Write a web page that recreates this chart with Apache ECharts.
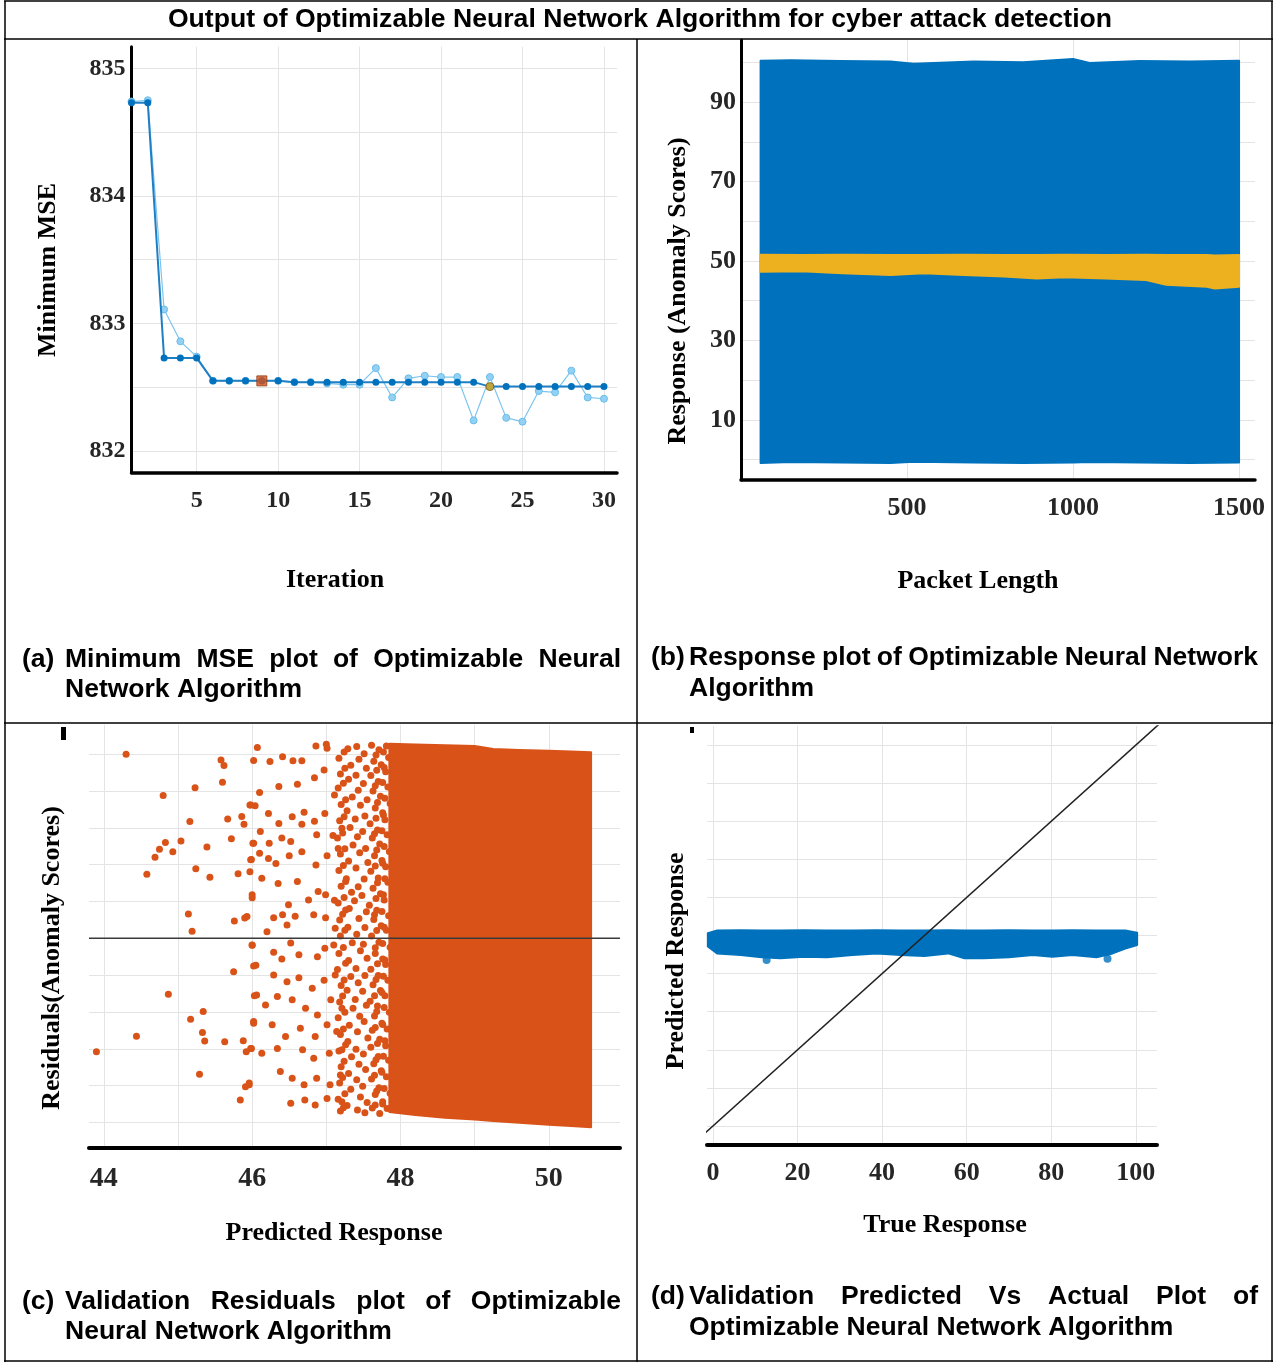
<!DOCTYPE html>
<html>
<head>
<meta charset="utf-8">
<script src="https://cdn.jsdelivr.net/npm/echarts@6/dist/echarts.min.js"></script>
<style>
  html, body { margin: 0; padding: 0; background: #fff; }
  #chart { width: 1275px; height: 1363px; }
</style>
</head>
<body>
<div id="chart"></div>
<script>
// ---- (a) Minimum MSE plot ----
const iterations = [1, 2, 3, 4, 5, 6, 7, 8, 9, 10, 11, 12, 13, 14, 15, 16, 17, 18, 19, 20, 21, 22, 23, 24, 25, 26, 27, 28, 29, 30];
const minObservedMSE = [834.73, 834.73, 832.73, 832.73, 832.73, 832.55, 832.55, 832.55, 832.55, 832.55,
  832.54, 832.54, 832.54, 832.54, 832.54, 832.54, 832.54, 832.54, 832.54, 832.54,
  832.54, 832.54, 832.505, 832.505, 832.505, 832.505, 832.505, 832.505, 832.505, 832.505];
const estimatedMSE = [834.74, 834.75, 833.11, 832.86, 832.74, 832.55, 832.55, 832.55, 832.55, 832.55,
  832.54, 832.54, 832.53, 832.52, 832.52, 832.65, 832.42, 832.57, 832.59, 832.58,
  832.58, 832.24, 832.58, 832.26, 832.23, 832.47, 832.46, 832.63, 832.42, 832.41];
const bestPoint = [9, 832.55];
const minErrorPoint = [23, 832.505];
const mseTicks = [832, 832.5, 833, 833.5, 834, 834.5, 835];
const mseLabels = [832, 833, 834, 835];
const iterTicks = [5, 10, 15, 20, 25, 30];

// ---- (b) Response plot (edges of the dense point clouds) ----
const respBlueX = [59, 150, 300, 450, 520, 700, 850, 1000, 1050, 1200, 1350, 1500];
const respBlueTop = [100.4, 100.5, 100.3, 100.2, 99.6, 100.2, 100.0, 100.8, 99.8, 100.3, 100.2, 100.4];
const respBlueBottom = [-0.8, -0.6, -0.7, -0.8, -0.5, -0.7, -0.8, -0.7, -0.6, -0.7, -0.8, -0.7];
const respPredX = [59, 184, 305, 452, 549, 671, 793, 891, 976, 1098, 1220, 1281, 1403, 1427, 1500];
const respPredTop = [51.6, 51.5, 51.6, 51.5, 51.5, 51.6, 51.5, 51.5, 51.6, 51.5, 51.6, 51.5, 51.5, 51.4, 51.5];
const respPredBottom = [47.3, 47.4, 46.9, 46.5, 46.9, 46.5, 46.1, 45.6, 45.9, 45.6, 45.2, 44.0, 43.5, 43.1, 43.5];
const respYTicks = [0, 10, 20, 30, 40, 50, 60, 70, 80, 90, 100];
const respYLabels = [10, 30, 50, 70, 90];
const packetTicks = [500, 1000, 1500];

// ---- (c) Validation residuals ----
const residualPts = [
  [44.30, 49.96], [45.58, 48.4], [45.62, 46.9], [45.60, 42.4], [45.23, 40.9], [44.80, 38.8], [45.97, 36.2], [45.16, 31.7],
  [45.67, 32.4], [45.86, 33.1], [45.89, 31.0], [45.04, 26.4], [44.83, 26.0], [44.75, 24.2], [44.69, 22.0], [44.93, 23.5],
  [45.39, 24.8], [45.72, 27.0], [44.58, 17.4], [45.24, 18.9], [45.43, 16.6], [45.81, 17.5], [45.97, 18.1], [45.99, 21.4],
  [46.01, 25.8], [46.00, 11.0], [45.14, 6.6], [45.76, 4.7], [45.90, 5.5], [45.19, 1.9], [46.00, -1.9], [45.75, -9.1],
  [46.02, -7.5], [44.87, -15.2], [46.03, -15.6], [45.34, -19.9], [45.17, -22.0], [44.44, -26.6], [45.33, -25.6], [45.36, -27.9],
  [45.63, -28.1], [45.88, -27.8], [46.02, -23.1], [43.90, -30.8], [45.92, -30.8], [45.99, -29.9], [45.29, -36.9], [45.91, -40.3],
  [45.96, -39.3], [45.84, -43.9], [46.02, 48.3], [46.04, 36.0],
  [46.07, 51.8], [46.24, 48.0], [46.41, 49.3], [46.55, 48.2], [46.67, 48.2], [46.86, 52.2], [47.00, 52.7], [47.01, 51.6],
  [46.36, 41.2], [46.61, 41.8], [46.84, 43.6], [46.97, 45.7], [46.10, 39.6], [45.98, 36.2], [46.22, 33.9], [46.36, 31.2],
  [46.54, 33.0], [46.70, 34.2], [46.84, 31.8], [46.98, 33.9], [47.11, 38.9], [46.02, 25.8], [46.11, 29.0], [46.23, 25.8],
  [46.40, 27.2], [46.52, 26.3], [46.67, 31.0], [46.87, 28.1], [47.09, 27.9], [47.21, 29.9], [45.98, 21.3], [46.10, 23.1],
  [46.22, 21.7], [46.32, 20.3], [46.50, 22.4], [46.67, 23.5], [46.86, 19.9], [47.01, 22.4], [47.16, 24.4], [46.00, 11.8],
  [46.13, 16.3], [46.35, 14.9], [46.61, 15.4], [46.76, 10.4], [46.89, 12.7], [46.99, 11.8], [47.11, 10.3], [47.26, 7.7],
  [46.29, 5.6], [46.41, 6.4], [46.49, 9.1], [46.58, 6.0], [46.47, 3.6], [46.83, 6.4], [46.99, 5.6], [47.12, 2.7],
  [46.20, 1.8], [45.93, 5.9], [46.00, -1.8], [46.29, -3.8], [46.40, -5.6], [46.52, -1.3], [46.63, -4.5], [46.88, -5.0],
  [46.98, -2.7], [47.10, -1.8], [46.05, -7.3], [46.29, -10.0], [46.47, -11.8], [46.63, -10.7], [46.81, -13.6], [46.97, -11.4],
  [47.12, -10.0], [46.06, -15.4], [46.18, -18.1], [46.34, -15.8], [46.54, -16.7], [46.72, -19.0], [46.88, -20.8], [47.06, -16.7],
  [47.21, -19.0], [46.02, -22.6], [46.27, -23.5], [46.45, -26.7], [46.65, -24.4], [46.85, -26.7], [47.01, -23.5], [47.14, -25.3],
  [45.98, -29.9], [46.13, -31.2], [46.34, -29.9], [46.68, -30.3], [46.83, -32.6], [47.04, -31.2], [47.21, -30.3], [45.96, -39.8],
  [46.38, -36.2], [46.54, -38.0], [46.70, -39.8], [46.87, -38.0], [47.05, -39.8], [47.19, -37.1], [46.52, -44.8], [46.71, -43.9],
  [46.85, -45.3], [47.01, -43.5], [47.21, -44.4],
  [47.17, 48.9], [47.19, 44.6], [47.16, 40.8], [47.20, 36.3], [47.18, 31.9], [47.15, 27.2], [47.19, 22.9], [47.17, 18.4],
  [47.20, 14.1], [47.16, 9.6], [47.18, 5.0], [47.19, 0.6], [47.17, -4.1], [47.15, -8.5], [47.20, -12.8], [47.18, -17.3],
  [47.16, -21.6], [47.19, -26.1], [47.17, -30.6], [47.20, -34.9], [47.18, -39.3], [47.16, -43.7], [47.19, -46.9],
  [47.24, 50.6], [47.25, 46.2], [47.23, 42.1], [47.26, 37.6], [47.24, 33.0], [47.22, 28.6], [47.25, 24.3], [47.23, 19.8],
  [47.26, 15.4], [47.24, 11.1], [47.22, 6.5], [47.25, 2.2], [47.23, -2.5], [47.26, -6.8], [47.24, -11.3], [47.22, -15.7],
  [47.25, -20.1], [47.23, -24.6], [47.26, -28.9], [47.24, -33.4], [47.22, -37.8], [47.25, -42.2], [47.23, -46.0],
  [47.29, 51.5], [47.33, 47.0], [47.30, 43.2], [47.35, 38.4], [47.28, 34.6], [47.32, 30.1], [47.36, 25.3], [47.30, 21.0],
  [47.27, 16.2], [47.34, 12.5], [47.31, 8.1], [47.29, 3.0], [47.35, -1.2], [47.30, -6.0], [47.33, -10.4], [47.28, -14.1],
  [47.36, -19.0], [47.31, -23.6], [47.29, -28.0], [47.34, -32.2], [47.30, -36.7], [47.33, -41.0], [47.28, -45.4],
  [47.41, 52.1], [47.44, 48.6], [47.40, 44.3], [47.43, 40.2], [47.46, 36.1], [47.39, 32.4], [47.42, 27.6], [47.45, 23.2],
  [47.40, 19.1], [47.43, 14.0], [47.38, 10.2], [47.44, 5.4], [47.41, 1.1], [47.46, -3.4], [47.40, -8.2], [47.43, -12.1],
  [47.39, -16.6], [47.45, -21.2], [47.42, -25.4], [47.40, -30.1], [47.44, -34.2], [47.41, -38.4], [47.46, -43.1], [47.42, -46.6],
  [47.51, 50.1], [47.54, 46.2], [47.50, 42.0], [47.55, 37.6], [47.52, 33.2], [47.49, 29.0], [47.53, 24.4], [47.56, 20.6],
  [47.51, 16.1], [47.48, 11.6], [47.54, 7.2], [47.52, 2.9], [47.50, -1.6], [47.55, -5.4], [47.52, -10.1], [47.49, -14.4],
  [47.54, -18.2], [47.51, -22.6], [47.56, -27.1], [47.50, -31.4], [47.53, -35.6], [47.49, -40.2], [47.55, -44.6], [47.52, -47.4],
  [47.61, 52.4], [47.64, 48.1], [47.60, 44.2], [47.63, 40.0], [47.66, 35.4], [47.59, 31.1], [47.62, 27.2], [47.65, 22.4],
  [47.60, 18.2], [47.63, 13.6], [47.58, 9.0], [47.64, 5.1], [47.61, 0.6], [47.66, -4.1], [47.60, -8.4], [47.63, -12.6],
  [47.59, -17.1], [47.65, -21.1], [47.62, -25.0], [47.60, -29.6], [47.64, -34.1], [47.61, -38.2], [47.66, -42.4], [47.62, -46.1],
  [47.67, 49.8], [47.68, 45.6], [47.66, 41.4], [47.69, 36.9], [47.67, 32.6], [47.65, 28.4], [47.68, 24.0], [47.66, 19.6],
  [47.69, 15.1], [47.67, 10.8], [47.65, 6.4], [47.68, 2.1], [47.66, -2.6], [47.69, -6.9], [47.67, -11.2], [47.65, -15.6],
  [47.68, -19.9], [47.66, -24.2], [47.69, -28.6], [47.67, -33.0], [47.65, -37.2], [47.68, -41.5], [47.66, -45.3],
  [47.71, 51.2], [47.74, 47.1], [47.70, 42.6], [47.73, 38.6], [47.76, 34.1], [47.69, 29.4], [47.72, 25.6], [47.75, 21.1],
  [47.70, 16.4], [47.73, 12.1], [47.68, 7.6], [47.74, 3.4], [47.71, -1.1], [47.76, -5.6], [47.70, -10.1], [47.73, -14.2],
  [47.69, -18.4], [47.75, -23.1], [47.72, -27.4], [47.70, -32.1], [47.74, -36.0], [47.71, -40.6], [47.76, -44.4], [47.72, -47.6],
  [47.77, 50.6], [47.78, 46.4], [47.76, 42.3], [47.79, 38.0], [47.77, 33.5], [47.75, 29.2], [47.78, 24.9], [47.76, 20.4],
  [47.79, 16.2], [47.77, 11.8], [47.75, 7.3], [47.78, 3.0], [47.76, -1.4], [47.79, -5.9], [47.77, -10.3], [47.75, -14.7],
  [47.78, -18.8], [47.76, -23.4], [47.79, -27.8], [47.77, -32.0], [47.75, -36.4], [47.78, -40.8], [47.76, -45.0],
  [47.81, 52.2], [47.84, 49.1], [47.80, 45.2], [47.83, 41.1], [47.86, 36.6], [47.79, 32.2], [47.82, 28.1], [47.85, 23.6],
  [47.80, 19.4], [47.83, 15.2], [47.78, 10.4], [47.84, 6.1], [47.81, 2.2], [47.86, -2.4], [47.80, -7.1], [47.83, -11.4],
  [47.79, -15.6], [47.85, -20.1], [47.82, -24.6], [47.80, -29.2], [47.84, -33.1], [47.81, -37.6], [47.86, -42.1], [47.82, -46.2]
];
const residDenseX = [47.85, 48.2, 48.6, 49.0, 49.25, 49.6, 50.0, 50.3, 50.57];
const residDenseTop = [52.8, 52.6, 52.4, 52.2, 51.4, 51.1, 50.9, 50.7, 50.5];
const residDenseBottom = [-47.2, -48.0, -48.7, -49.2, -49.6, -50.1, -50.6, -51.0, -51.3];
const predTicks = [44, 45, 46, 47, 48, 49, 50];
const predLabels = [44, 46, 48, 50];
const residTicks = [-50, -40, -30, -20, -10, 0, 10, 20, 30, 40, 50];

// ---- (d) Predicted vs actual ----
const trueX = [-1.2, 1, 6.6, 11.5, 16, 21.5, 27, 33, 38.7, 44.4, 50, 55.6, 59.5, 64, 70, 75.6, 80.3, 85, 90.7, 94.5, 97.5, 100.3];
const predTop = [50.6, 51.3, 51.4, 51.3, 51.3, 51.4, 51.3, 51.3, 51.4, 51.3, 51.3, 51.4, 51.3, 51.3, 51.4, 51.3, 51.3, 51.4, 51.3, 51.3, 51.3, 50.7];
const predBottom = [47.1, 45.3, 44.9, 44.3, 44.0, 44.4, 44.3, 44.9, 45.3, 44.9, 44.6, 45.3, 44.0, 44.0, 44.3, 44.9, 44.4, 44.9, 44.3, 45.3, 46.6, 47.5];
const predOutliers = [[12.7, 43.6], [93.3, 43.9]];
const perfectLine = [[-2, -2], [106, 106]];
const trueTicks = [0, 20, 40, 60, 80, 100];
const predYTicks = [0, 10, 20, 30, 40, 50, 60, 70, 80, 90, 100];

const SERIF = 'Liberation Serif';
const SANS = 'Liberation Sans';
const BLUE = '#0072BD';
const ORANGE = '#D95319';
const YELLOW = '#EDB120';
const GRID_COLOR = '#e4e4e4';

function valueAxis(gridIndex, min, max, ticks, labels, o) {
  return {
    type: 'value', gridIndex, min, max,
    axisLine: { show: o.line !== false, onZero: false, lineStyle: { color: '#000', width: o.lineWidth || 3 } },
    axisTick: { show: false, customValues: ticks },
    axisLabel: {
      show: labels.length > 0, customValues: labels, margin: o.margin || 8,
      formatter: v => String(v),
      fontFamily: SERIF, fontWeight: 'bold', fontSize: o.fontSize || 24, color: '#262626'
    },
    splitLine: { show: true, lineStyle: { color: GRID_COLOR, width: 1 } }
  };
}

// polygon between an upper and a lower edge, all points through the axes
function bandRenderer(color, n) {
  return function (params, api) {
    if (params.dataIndexInside !== 0) return { type: 'group', children: [] };
    const upper = [], lower = [];
    for (let i = 0; i < n; i++) {
      upper.push(api.coord([api.value(0, i), api.value(1, i)]));
      lower.push(api.coord([api.value(0, i), api.value(2, i)]));
    }
    return {
      type: 'polygon',
      shape: { points: upper.concat(lower.reverse()) },
      style: { fill: color, stroke: color, lineWidth: 2, lineJoin: 'round' }
    };
  };
}

function bandSeries(axisIndex, xs, tops, bottoms, color, z) {
  return {
    type: 'custom', xAxisIndex: axisIndex, yAxisIndex: axisIndex, z: z || 2, silent: true,
    data: xs.map((x, i) => [x, tops[i], bottoms[i]]),
    encode: { x: 0, y: [1, 2] },
    renderItem: bandRenderer(color, xs.length)
  };
}

// ---- text helpers ----
const measureCtx = document.createElement('canvas').getContext('2d');
function textWidth(str, size, family) {
  measureCtx.font = 'bold ' + size + 'px "' + family + '"';
  return measureCtx.measureText(str).width;
}
function txt(text, x, y, size, family, align, rotation) {
  return {
    type: 'text', x, y, silent: true, rotation: rotation || 0,
    style: { text, fontSize: size, fontFamily: family, fontWeight: 'bold', fill: '#000', align: align || 'left', verticalAlign: 'middle' }
  };
}
function vtxt(text, x, y) {
  return txt(text, x, y, 26, SERIF, 'center', Math.PI / 2);
}
function justified(words, x0, x1, y, size) {
  const widths = words.map(w => textWidth(w, size, SANS));
  const gap = (x1 - x0 - widths.reduce((a, b) => a + b, 0)) / (words.length - 1);
  let x = x0;
  return words.map((w, i) => {
    const el = txt(w, x, y, size, SANS);
    x += widths[i] + gap;
    return el;
  });
}
function hline(x1, x2, y) {
  return { type: 'line', silent: true, shape: { x1, y1: y, x2, y2: y }, style: { stroke: '#000', lineWidth: 1.5 } };
}
function vline(x, y1, y2) {
  return { type: 'line', silent: true, shape: { x1: x, y1, x2: x, y2 }, style: { stroke: '#000', lineWidth: 1.5 } };
}

const CAP = 26.5;
const graphics = [
  // table frame
  hline(4, 1273, 1), hline(4, 1273, 39), hline(4, 1273, 723), hline(4, 1273, 1361),
  vline(5, 1, 1362), vline(1272, 1, 1362), vline(637, 39, 1362),
  txt('Output of Optimizable Neural Network Algorithm for cyber attack detection', 640, 20, 26.6, SANS, 'center'),
  // axis names
  vtxt('Minimum MSE', 48, 270),
  txt('Iteration', 335, 580, 26, SERIF, 'center'),
  vtxt('Response (Anomaly Scores)', 678, 291),
  txt('Packet Length', 978, 581, 26, SERIF, 'center'),
  vtxt('Residuals(Anomaly Scores)', 52, 958),
  txt('Predicted Response', 334, 1233, 26, SERIF, 'center'),
  vtxt('Predicted Response', 676, 961),
  txt('True Response', 945, 1225, 26, SERIF, 'center'),
  { type: 'rect', silent: true, shape: { x: 61, y: 727, width: 5, height: 13 }, style: { fill: '#000' } },
  { type: 'rect', silent: true, shape: { x: 690, y: 727, width: 4, height: 6 }, style: { fill: '#000' } },
  // captions
  txt('(a)', 22, 660, CAP, SANS),
  ...justified(['Minimum', 'MSE', 'plot', 'of', 'Optimizable', 'Neural'], 65, 621, 660, CAP),
  txt('Network Algorithm', 65, 690, CAP, SANS),
  txt('(b)', 651, 658, CAP, SANS),
  ...justified(['Response', 'plot', 'of', 'Optimizable', 'Neural', 'Network'], 689, 1258, 658, CAP),
  txt('Algorithm', 689, 689, CAP, SANS),
  txt('(c)', 22, 1302, CAP, SANS),
  ...justified(['Validation', 'Residuals', 'plot', 'of', 'Optimizable'], 65, 621, 1302, CAP),
  txt('Neural Network Algorithm', 65, 1332, CAP, SANS),
  txt('(d)', 651, 1297, CAP, SANS),
  ...justified(['Validation', 'Predicted', 'Vs', 'Actual', 'Plot', 'of'], 689, 1258, 1297, CAP),
  txt('Optimizable Neural Network Algorithm', 689, 1328, CAP, SANS)
];

const chart = echarts.init(document.getElementById('chart'), null, { renderer: 'canvas' });

const option = {
  backgroundColor: '#fff',
  animation: false,
  textStyle: { fontFamily: SERIF },
  grid: [
    { left: 131.5, top: 46.7, width: 485.5, height: 426, outerBoundsMode: 'none' },
    { left: 741, top: 40, width: 514, height: 440, outerBoundsMode: 'none' },
    { left: 89, top: 724.7, width: 531, height: 423.5, outerBoundsMode: 'none' },
    { left: 707, top: 726, width: 450, height: 419, outerBoundsMode: 'none' }
  ],
  xAxis: [
    valueAxis(0, 1, 30.8, iterTicks, iterTicks, { margin: 16, fontSize: 24, lineWidth: 3.5 }),
    valueAxis(1, 0, 1548, packetTicks, packetTicks, { margin: 15, fontSize: 26, lineWidth: 3.5 }),
    valueAxis(2, 43.8, 50.96, predTicks, predLabels, { margin: 17, fontSize: 28, lineWidth: 4 }),
    valueAxis(3, -1.4, 105, trueTicks, trueTicks, { margin: 15, fontSize: 26, lineWidth: 4 })
  ],
  yAxis: [
    valueAxis(0, 831.83, 835.17, mseTicks, mseLabels, { margin: 6, fontSize: 24, lineWidth: 3 }),
    valueAxis(1, -5.1, 105.6, respYTicks, respYLabels, { margin: 5, fontSize: 26, lineWidth: 3 }),
    valueAxis(2, -57, 58, residTicks, [], { line: false }),
    valueAxis(3, -5, 105, predYTicks, [], { line: false })
  ],
  graphic: graphics,
  series: [
    // (a)
    {
      type: 'line', xAxisIndex: 0, yAxisIndex: 0, z: 2,
      data: iterations.map((x, i) => [x, estimatedMSE[i]]),
      symbol: 'circle', symbolSize: 7,
      itemStyle: { color: '#92d1f4', borderColor: '#6cbde9', borderWidth: 1 },
      lineStyle: { color: '#7cc4ee', width: 1.2 }
    },
    {
      type: 'line', xAxisIndex: 0, yAxisIndex: 0, z: 3,
      data: iterations.map((x, i) => [x, minObservedMSE[i]]),
      symbol: 'circle', symbolSize: 7,
      itemStyle: { color: BLUE },
      lineStyle: { color: '#1f7fc4', width: 2 }
    },
    {
      type: 'scatter', xAxisIndex: 0, yAxisIndex: 0, z: 4,
      data: [bestPoint], symbol: 'rect', symbolSize: 10,
      itemStyle: { color: ORANGE, borderColor: '#8a3a12', borderWidth: 1 }
    },
    {
      type: 'scatter', xAxisIndex: 0, yAxisIndex: 0, z: 4,
      data: [minErrorPoint], symbol: 'circle', symbolSize: 8,
      itemStyle: { color: YELLOW, borderColor: '#6b5612', borderWidth: 1 }
    },
    // (b)
    bandSeries(1, respBlueX, respBlueTop, respBlueBottom, BLUE, 2),
    bandSeries(1, respPredX, respPredTop, respPredBottom, YELLOW, 3),
    // (c)
    bandSeries(2, residDenseX, residDenseTop, residDenseBottom, ORANGE, 2),
    {
      type: 'scatter', xAxisIndex: 2, yAxisIndex: 2, z: 2,
      data: residualPts, symbol: 'circle', symbolSize: 7,
      itemStyle: { color: ORANGE, opacity: 1 }
    },
    {
      type: 'line', xAxisIndex: 2, yAxisIndex: 2, z: 5,
      data: [[43.8, 0], [50.96, 0]], symbol: 'none',
      lineStyle: { color: '#3a3a3a', width: 1.6 }
    },
    // (d)
    bandSeries(3, trueX, predTop, predBottom, BLUE, 2),
    {
      type: 'scatter', xAxisIndex: 3, yAxisIndex: 3, z: 2,
      data: predOutliers, symbol: 'circle', symbolSize: 8,
      itemStyle: { color: BLUE }
    },
    {
      type: 'line', xAxisIndex: 3, yAxisIndex: 3, z: 5,
      data: perfectLine, symbol: 'none', clip: true,
      lineStyle: { color: '#222', width: 1.5 }
    }
  ]
};

chart.setOption(option);
</script>
</body>
</html>
